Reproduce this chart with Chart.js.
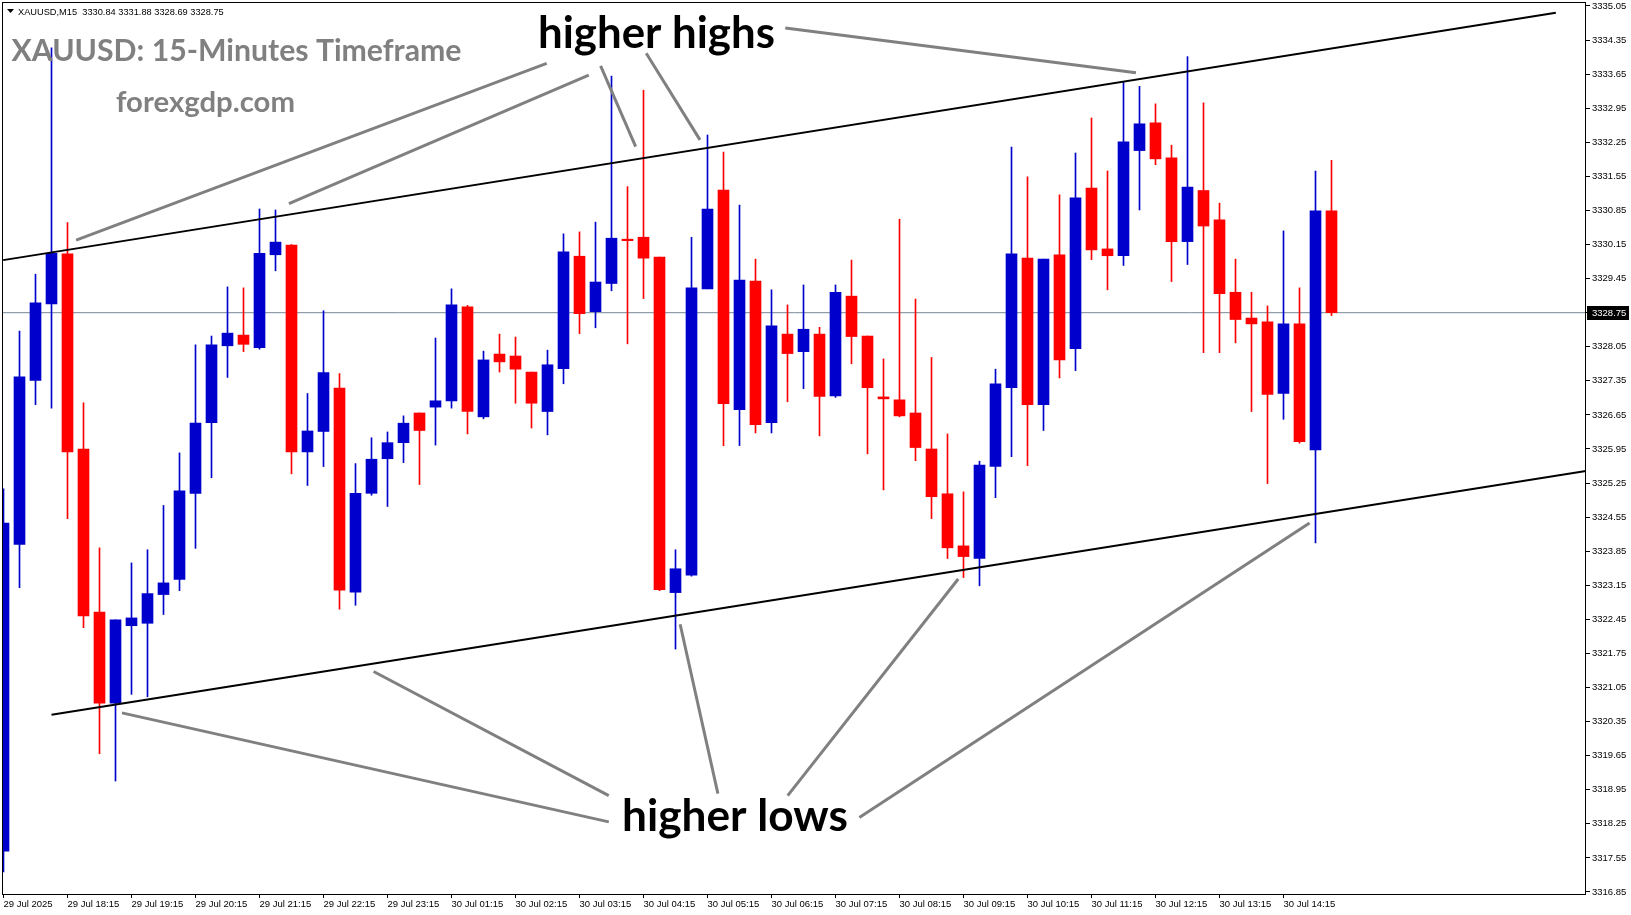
<!DOCTYPE html>
<html><head><meta charset="utf-8">
<script src="https://cdn.jsdelivr.net/npm/chart.js@4.4.1/dist/chart.umd.min.js"></script>
<style>html,body{margin:0;padding:0;background:#fff;overflow:hidden}#wrap{width:1631px;height:915px;position:relative}</style>
</head><body><div id="wrap"><canvas id="c" width="1631" height="915"></canvas></div>
<script>
// ---- data (XAUUSD M15, bar index 0 = 29 Jul 17:15) ----
const opens  = [3317.69,3323.99,3327.36,3328.93,3329.96,3325.95,3322.60,3320.73,3322.32,3322.37,
                3322.96,3323.27,3325.04,3326.49,3328.07,3328.29,3328.03,3329.94,3330.14,3325.89,
                3326.31,3327.20,3323.01,3325.04,3325.75,3326.08,3326.69,3326.81,3326.94,3328.87,
                3326.61,3327.90,3327.86,3327.53,3326.72,3327.60,3329.91,3328.77,3329.35,3330.26,
                3330.30,3329.89,3323.00,3323.36,3329.24,3331.27,3326.76,3329.40,3326.49,3328.31,
                3327.95,3328.31,3327.04,3329.09,3328.27,3327.02,3326.96,3326.69,3325.95,3325.03,
                3323.96,3323.70,3325.59,3327.21,3329.87,3326.86,3329.94,3328.01,3331.31,3330.06,
                3329.92,3332.08,3332.65,3331.93,3330.21,3331.26,3330.66,3329.17,3328.64,3328.56,
                3327.09,3328.52,3325.93,3330.84];
const highs  = [3325.13,3328.37,3329.54,3334.19,3330.60,3326.90,3323.92,3322.44,3323.61,3323.88,
                3324.79,3325.87,3328.09,3328.27,3329.28,3329.26,3330.88,3330.86,3330.15,3327.09,
                3328.79,3327.50,3325.65,3326.18,3326.30,3326.63,3326.69,3328.23,3329.24,3328.90,
                3327.96,3328.31,3328.25,3327.53,3327.98,3330.37,3330.41,3330.61,3333.61,3331.34,
                3333.32,3329.89,3323.88,3330.30,3332.40,3332.05,3330.96,3329.85,3329.22,3328.91,
                3329.32,3328.45,3329.32,3329.83,3328.27,3327.80,3330.67,3329.03,3327.83,3326.26,
                3325.07,3325.70,3327.59,3332.15,3331.54,3329.85,3331.17,3332.03,3332.75,3331.66,
                3333.50,3333.40,3333.04,3332.19,3334.01,3333.06,3331.00,3329.85,3329.17,3328.89,
                3330.43,3329.26,3331.66,3331.88];
const lows   = [3317.26,3323.10,3326.86,3326.79,3324.52,3322.28,3319.69,3319.13,3320.91,3320.86,
                3322.55,3323.04,3323.91,3325.36,3327.42,3327.95,3328.00,3329.61,3325.44,3325.20,
                3325.59,3322.66,3322.74,3325.00,3324.77,3325.67,3325.22,3326.03,3326.79,3326.26,
                3326.57,3327.53,3326.89,3326.38,3326.24,3327.29,3328.32,3328.44,3329.20,3328.11,
                3329.04,3323.04,3321.84,3323.34,3329.24,3326.02,3326.02,3326.28,3326.28,3326.92,
                3327.19,3326.22,3327.01,3327.70,3325.85,3325.11,3326.61,3325.71,3324.52,3323.70,
                3323.31,3323.14,3324.95,3325.79,3325.61,3326.33,3327.41,3327.56,3329.84,3329.22,
                3329.72,3330.86,3331.79,3329.39,3329.74,3327.93,3327.93,3328.13,3326.72,3325.24,
                3326.56,3326.07,3324.02,3328.69];
const closes = [3324.43,3327.43,3328.95,3329.97,3325.89,3322.52,3320.73,3322.44,3322.48,3322.98,
                3323.20,3325.09,3326.48,3328.09,3328.33,3328.10,3329.97,3330.20,3325.89,3326.32,
                3327.52,3323.05,3325.04,3325.74,3326.08,3326.48,3326.33,3326.94,3328.91,3326.72,
                3327.78,3327.74,3327.59,3326.89,3327.68,3330.00,3328.73,3329.38,3330.28,3330.23,
                3329.87,3323.06,3323.49,3329.26,3330.88,3326.88,3329.42,3326.45,3328.48,3327.91,
                3328.41,3327.03,3329.17,3328.26,3327.21,3326.98,3326.63,3325.98,3324.97,3323.92,
                3323.74,3325.62,3327.29,3329.96,3326.86,3329.85,3327.78,3331.11,3330.04,3329.92,
                3332.26,3332.63,3331.91,3330.21,3331.33,3330.53,3329.14,3328.61,3328.52,3327.07,
                3328.52,3326.10,3330.84,3328.75];
const lastPrice = 3328.75;

const xTickIndex  = [0,4,8,12,16,20,24,28,32,36,40,44,48,52,56,60,64,68,72,76,80];
const xTickLabels = ['29 Jul 2025','29 Jul 18:15','29 Jul 19:15','29 Jul 20:15','29 Jul 21:15',
                     '29 Jul 22:15','29 Jul 23:15','30 Jul 01:15','30 Jul 02:15','30 Jul 03:15',
                     '30 Jul 04:15','30 Jul 05:15','30 Jul 06:15','30 Jul 07:15','30 Jul 08:15',
                     '30 Jul 09:15','30 Jul 10:15','30 Jul 11:15','30 Jul 12:15','30 Jul 13:15',
                     '30 Jul 14:15'];
const yTickValues = [3335.05,3334.35,3333.65,3332.95,3332.25,3331.55,3330.85,3330.15,3329.45,
                     3328.75,3328.05,3327.35,3326.65,3325.95,3325.25,3324.55,3323.85,3323.15,
                     3322.45,3321.75,3321.05,3320.35,3319.65,3318.95,3318.25,3317.55,3316.85];

// channel trend lines [barIndex, price]
const channelUpper = [[-0.02,3329.83],[97.02,3334.91]];
const channelLower = [[3.0,3320.49],[98.9,3325.50]];
// pointer lines from labels to swing points [barIndex, price]
const pointerLines = [
  [[33.95,3333.87],[4.54,3330.24]],
  [[36.58,3333.63],[17.84,3330.99]],
  [[37.32,3333.82],[39.51,3332.16]],
  [[40.17,3334.08],[43.53,3332.30]],
  [[48.86,3334.60],[70.78,3333.68]],
  [[37.83,3318.29],[7.40,3320.53]],
  [[37.83,3318.83],[23.13,3321.38]],
  [[44.65,3318.87],[42.29,3322.35]],
  [[49.01,3318.83],[59.67,3323.28]],
  [[53.49,3318.38],[81.63,3324.43]]
];

// ---- styling / layout ----
const BULL = '#0000CD', BEAR = '#FF0000';
const X_MIN = -0.03125, X_MAX = 98.90625;
const Y_MAX = 3335.1116, Y_MIN = 3316.8089;
const AXIS_FONT = {family: "'Liberation Sans', Arial, sans-serif", size: 9.5};

const candleColors = opens.map((o, i) => closes[i] >= o ? BULL : BEAR);
const idx = opens.map((_, i) => i);

const datasets = [];
datasets.push({type:'line', data:[{x:X_MIN,y:lastPrice},{x:X_MAX,y:lastPrice}], borderColor:'#778899',
  borderWidth:1, pointRadius:0, order:6, clip:0});
datasets.push({type:'bar', data: idx.map(i => ({x:i, y:[lows[i], highs[i]]})), backgroundColor: candleColors,
  barThickness:1, grouped:false, order:5, clip:0, borderWidth:0});
datasets.push({type:'bar', data: idx.map(i => ({x:i, y:[Math.min(opens[i],closes[i]), Math.max(opens[i],closes[i])]})),
  backgroundColor: candleColors, barThickness:11, grouped:false, minBarLength:1, order:4, clip:0, borderWidth:0});
[channelUpper, channelLower].forEach(l => datasets.push({type:'line', data: l.map(p => ({x:p[0], y:p[1]})),
  borderColor:'#000', borderWidth:2, pointRadius:0, order:3, clip:0}));
pointerLines.forEach(l => datasets.push({type:'line', data: l.map(p => ({x:p[0], y:p[1]})),
  borderColor:'#808080', borderWidth:3, pointRadius:0, order:2, clip:0}));

function fitSize(ctx, text, weight, family, w) {
  ctx.font = weight + ' 100px ' + family;
  return 100 * w / ctx.measureText(text).width;
}
function drawFit(ctx, text, weight, family, x, baseline, w, color) {
  const s = fitSize(ctx, text, weight, family, w);
  ctx.font = weight + ' ' + s.toFixed(2) + 'px ' + family;
  ctx.fillStyle = color; ctx.textAlign = 'left'; ctx.textBaseline = 'alphabetic';
  ctx.fillText(text, x, baseline);
}

const overlay = {
  id: 'overlay',
  afterDraw(chart) {
    const ctx = chart.ctx, ca = chart.chartArea, ys = chart.scales.y;
    ctx.save();
    // frame
    ctx.strokeStyle = '#000'; ctx.lineWidth = 1;
    ctx.strokeRect(ca.left - 0.5, ca.top - 0.5, ca.right - ca.left, ca.bottom - ca.top + 1);
    // last price box
    const py = ys.getPixelForValue(lastPrice);
    ctx.fillStyle = '#000';
    ctx.fillRect(ca.right + 1, Math.round(py) - 7, 42, 14);
    ctx.fillStyle = '#fff'; ctx.font = "9.5px 'Liberation Sans', Arial, sans-serif";
    ctx.textBaseline = 'middle'; ctx.textAlign = 'left';
    ctx.fillText(lastPrice.toFixed(2), ca.right + 6, py + 0.5);
    // header
    ctx.fillStyle = '#000';
    ctx.beginPath(); ctx.moveTo(7, 9); ctx.lineTo(14, 9); ctx.lineTo(10.5, 13); ctx.closePath(); ctx.fill();
    const n = opens.length - 1;
    const hdr = 'XAUUSD,M15  ' + [opens[n], highs[n], lows[n], closes[n]].map(v => v.toFixed(2)).join(' ');
    drawFit(ctx, hdr, 'normal', "'Liberation Sans', Arial, sans-serif", 18, 14.5, 206, '#000');
    // labels
    const F = "Lato, 'Open Sans', sans-serif";
    drawFit(ctx, 'XAUUSD: 15-Minutes Timeframe', 'bold', F, 11.5, 61, 450, '#808080');
    drawFit(ctx, 'forexgdp.com', 'bold', F, 116, 112, 179, '#808080');
    drawFit(ctx, 'higher highs', 'bold', F, 538, 48, 237, '#000');
    drawFit(ctx, 'higher lows', 'bold', F, 622, 831, 226, '#000');
    ctx.restore();
  }
};

new Chart(document.getElementById('c'), {
  type: 'bar',
  data: { datasets },
  options: {
    responsive: false, animation: false, devicePixelRatio: 1, events: [],
    layout: { padding: { left: 3, top: 3, right: 0, bottom: 0 } },
    plugins: { legend: { display: false }, tooltip: { enabled: false } },
    scales: {
      x: {
        type: 'linear', min: X_MIN, max: X_MAX, offset: false,
        grid: { offset: false, drawOnChartArea: false, drawTicks: true, tickLength: 4, color: '#000' },
        border: { display: false },
        ticks: { autoSkip: false, maxRotation: 0, minRotation: 0, align: 'start', padding: 1, color: '#000',
                 font: AXIS_FONT, callback: (v, i) => xTickLabels[i] },
        afterBuildTicks: s => { s.ticks = xTickIndex.map(v => ({ value: v })); },
        afterFit: s => { s.height = 21; s.paddingLeft = 0; s.paddingRight = 0; }
      },
      y: {
        type: 'linear', position: 'right', min: Y_MIN, max: Y_MAX, beginAtZero: false,
        grid: { drawOnChartArea: false, drawTicks: true, tickLength: 4, color: '#000' },
        border: { display: false },
        ticks: { autoSkip: false, padding: 2, color: '#000', font: AXIS_FONT, callback: v => Number(v).toFixed(2) },
        afterBuildTicks: s => { s.ticks = yTickValues.map(v => ({ value: v })); },
        afterFit: s => { s.width = 45; s.paddingTop = 0; s.paddingBottom = 0; }
      }
    }
  },
  plugins: [overlay]
});
</script></body></html>
